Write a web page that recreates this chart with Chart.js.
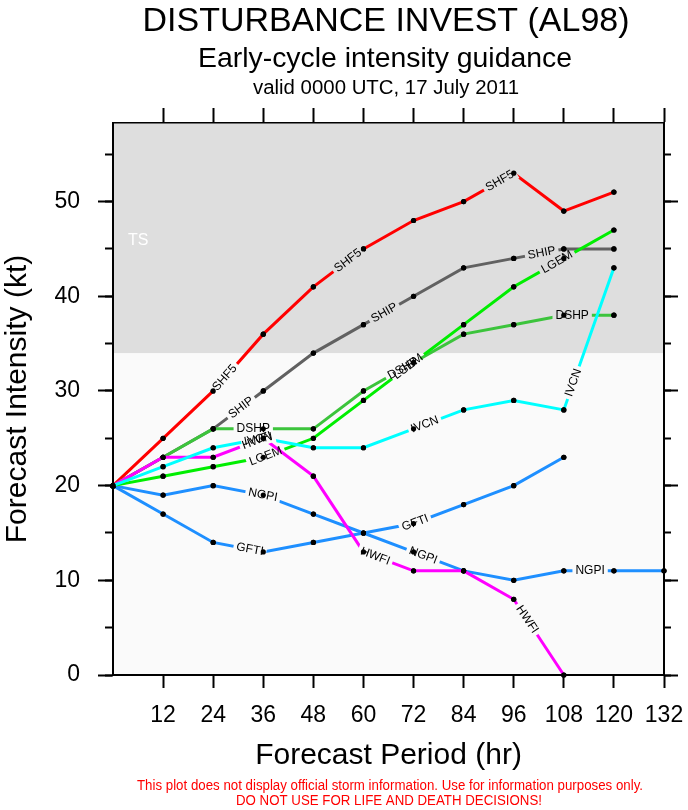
<!DOCTYPE html>
<html>
<head>
<meta charset="utf-8">
<script src="https://cdn.jsdelivr.net/npm/chart.js@4.4.1/dist/chart.umd.min.js"></script>
<style>
html,body{margin:0;padding:0;background:#fff;}
#wrap{width:688px;height:810px;position:relative;}
</style>
</head>
<body>
<div id="wrap"><canvas id="c"></canvas></div>
<script>
const FONT = '"Liberation Sans", Arial, Helvetica, sans-serif';

// ---- data ----
const hours = [0, 12, 24, 36, 48, 60, 72, 84, 96, 108, 120, 132];
const xTickValues = [12, 24, 36, 48, 60, 72, 84, 96, 108, 120, 132];
const yMajorTicks = [0, 10, 20, 30, 40, 50];
const yMinorTicks = [0, 5, 10, 15, 20, 25, 30, 35, 40, 45, 50, 55];
const yMax = 58.3;
const tsThreshold = 34;

const shf5 = [20, 25, 30, 36, 41, 45, 48, 50, 53, 49, 51];
const ship = [20, 23, 26, 30, 34, 37, 40, 43, 44, 45, 45];
const dshp = [20, 23, 26, 26, 26, 30, 33, 36, 37, 38, 38];
const lgem = [20, 21, 22, 23, 25, 29, 33, 37, 41, 44, 47];
const ivcn = [20, 22, 24, 25, 24, 24, 26, 28, 29, 28, 43];
const hwfi = [20, 23, 23, 25, 21, 13, 11, 11, 8, 0];
const ngpi = [20, 19, 20, 19, 17, 15, 13, 11, 10, 11, 11, 11];
const gfti = [20, 17, 14, 13, 14, 15, 16, 18, 20, 23];

// forecast hour at which each in-line label sits
const shf5Labels = [26.8, 56.3, 92.7];
const shipLabels = [30.7, 65, 102.7];
const dshpLabels = [33.6, 69.5, 110];
const lgemLabels = [36.6, 70.7, 106.4];
const ivcnLabels = [34.8, 74.7, 110.3];
const hwfiLabels = [34.5, 62.8, 99.2];
const ngpiLabels = [35.9, 74.3, 114.3];
const gftiLabels = [32.8, 72.4];

const titleText = 'DISTURBANCE INVEST (AL98)';
const subtitleText = 'Early-cycle intensity guidance';
const validText = 'valid 0000 UTC, 17 July 2011';
const footer1 = 'This plot does not display official storm information. Use for information purposes only.';
const footer2 = 'DO NOT USE FOR LIFE AND DEATH DECISIONS!';
const tsLabel = { text: 'TS', hour: 3.6, kt: 45.4 };

const toXY = vals => vals.map((v, i) => ({ x: hours[i], y: v }));

function series(label, vals, color, labels) {
  return {
    label, data: toXY(vals), lineLabels: labels,
    borderColor: color, borderWidth: 3, tension: 0, fill: false,
    pointRadius: 2.6, pointBackgroundColor: '#000', pointBorderWidth: 0,
    pointHoverRadius: 2.6, clip: false, xAxisID: 'x', yAxisID: 'y'
  };
}

const datasets = [
  series('IVCN', ivcn, '#00ffff', ivcnLabels),
  series('HWFI', hwfi, '#ff00ff', hwfiLabels),
  series('LGEM', lgem, '#00ee00', lgemLabels),
  series('DSHP', dshp, '#3cc43c', dshpLabels),
  series('SHIP', ship, '#616161', shipLabels),
  series('SHF5', shf5, '#ff0000', shf5Labels),
  series('NGPI', ngpi, '#1e8fff', ngpiLabels),
  series('GFTI', gfti, '#1e8fff', gftiLabels)
];

const LABEL_FONT = '12px ' + FONT;

function labelGeom(chart, ds, h) {
  const xs = chart.scales.x, ys = chart.scales.y;
  const d = ds.data;
  let i = 0;
  while (i < d.length - 2 && d[i + 1].x < h) i++;
  const a = d[i], b = d[i + 1];
  const t = (h - a.x) / (b.x - a.x);
  const v = a.y + t * (b.y - a.y);
  const px = xs.getPixelForValue(h), py = ys.getPixelForValue(v);
  const ang = Math.atan2(ys.getPixelForValue(b.y) - ys.getPixelForValue(a.y),
                         xs.getPixelForValue(b.x) - xs.getPixelForValue(a.x));
  return { px, py, ang };
}

function drawFitted(ctx, text, cx, y, font, color, target) {
  ctx.save();
  ctx.font = font;
  ctx.fillStyle = color;
  ctx.textAlign = 'center';
  ctx.textBaseline = 'alphabetic';
  const w = ctx.measureText(text).width;
  const s = target ? target / w : 1;
  ctx.translate(cx, y);
  ctx.scale(s, 1);
  ctx.fillText(text, 0, 0);
  ctx.restore();
}

const decorPlugin = {
  id: 'decor',
  beforeDraw(chart) {
    const { ctx, chartArea: a } = chart;
    const y = chart.scales.y;
    ctx.save();
    ctx.fillStyle = '#ffffff';
    ctx.fillRect(0, 0, chart.width, chart.height);
    ctx.fillStyle = '#fafafa';
    ctx.fillRect(a.left, a.top, a.right - a.left, a.bottom - a.top);
    const yTs = y.getPixelForValue(tsThreshold);
    ctx.fillStyle = '#dedede';
    ctx.fillRect(a.left, a.top, a.right - a.left, yTs - a.top);
    ctx.restore();
  },
  beforeDatasetsDraw(chart) {
    const ctx = chart.ctx;
    ctx.save();
    ctx.font = '16px ' + FONT;
    ctx.fillStyle = '#ffffff';
    ctx.textAlign = 'left';
    ctx.textBaseline = 'alphabetic';
    ctx.fillText(tsLabel.text, chart.scales.x.getPixelForValue(tsLabel.hour), chart.scales.y.getPixelForValue(tsLabel.kt));
    ctx.restore();
  },
  beforeDatasetDraw(chart, args) {
    const ds = chart.data.datasets[args.index];
    const ctx = chart.ctx;
    ctx.save();
    if (!ds.lineLabels) return;
    ctx.font = LABEL_FONT;
    const hw = ctx.measureText(ds.label).width / 2 + 3, hh = 7;
    ctx.beginPath();
    ctx.rect(0, 0, chart.width, chart.height);
    ds.lineLabels.forEach(h => {
      const g = labelGeom(chart, ds, h);
      const c = Math.cos(g.ang), s = Math.sin(g.ang);
      const pts = [[-hw, -hh], [hw, -hh], [hw, hh], [-hw, hh]].map(([u, v]) => [g.px + u * c - v * s, g.py + u * s + v * c]);
      ctx.moveTo(pts[0][0], pts[0][1]);
      for (let k = 1; k < 4; k++) ctx.lineTo(pts[k][0], pts[k][1]);
      ctx.closePath();
    });
    ctx.clip('evenodd');
  },
  afterDatasetDraw(chart, args) {
    const ctx = chart.ctx;
    ctx.restore();
    args.meta.data.forEach(p => p.draw(ctx));
  },
  afterDatasetsDraw(chart) {
    const ctx = chart.ctx;
    chart.data.datasets.forEach(ds => {
      (ds.lineLabels || []).forEach(h => {
        const g = labelGeom(chart, ds, h);
        ctx.save();
        ctx.translate(g.px, g.py);
        ctx.rotate(g.ang);
        ctx.font = LABEL_FONT;
        ctx.fillStyle = '#000';
        ctx.textAlign = 'center';
        ctx.textBaseline = 'middle';
        ctx.fillText(ds.label, 0, 0);
        ctx.restore();
      });
    });
  },
  afterDraw(chart) {
    const ctx = chart.ctx;
    drawFitted(ctx, titleText, 386, 31, '33px ' + FONT, '#000', 487);
    drawFitted(ctx, subtitleText, 385, 67, '28px ' + FONT, '#000', 374);
    drawFitted(ctx, validText, 386, 94, '20px ' + FONT, '#000', 266);
    drawFitted(ctx, footer1, 390, 790, '14px ' + FONT, '#ff0000', 506);
    drawFitted(ctx, footer2, 389, 805, '14px ' + FONT, '#ff0000', 306);
  }
};

const setTicks = arr => scale => { scale.ticks = arr.map(v => ({ value: v })); };

const chart = new Chart(document.getElementById('c'), {
  type: 'line',
  data: { datasets },
  plugins: [decorPlugin],
  options: {
    responsive: true,
    maintainAspectRatio: false,
    animation: false,
    events: [],
    layout: { padding: { top: 108, left: 0, right: 0, bottom: 0 } },
    plugins: { legend: { display: false }, tooltip: { enabled: false }, title: { display: false } },
    scales: {
      x: {
        type: 'linear', axis: 'x', position: 'bottom', min: 0, max: 132,
        afterBuildTicks: setTicks(xTickValues),
        afterFit: s => { s.height = 135; },
        ticks: { color: '#000', font: { family: FONT, size: 23, lineHeight: 48 / 23 }, padding: 4, autoSkip: false, maxRotation: 0 },
        grid: { drawOnChartArea: false, drawTicks: true, tickLength: 13, tickColor: '#000', tickWidth: 2 },
        border: { color: '#000', width: 2 },
        title: { display: true, text: 'Forecast Period (hr)', color: '#000', font: { family: FONT, size: 30 }, padding: { top: 0, bottom: 36 } }
      },
      x2: {
        type: 'linear', axis: 'x', position: 'top', min: 0, max: 132,
        afterBuildTicks: setTicks(xTickValues),
        afterFit: s => { s.height = 15; },
        ticks: { display: false },
        grid: { drawOnChartArea: false, drawTicks: true, tickLength: 15, tickColor: '#000', tickWidth: 2 },
        border: { color: '#000', width: 1.5 }
      },
      y: {
        type: 'linear', axis: 'y', position: 'left', weight: 1, min: 0, max: yMax,
        afterBuildTicks: setTicks(yMajorTicks),
        afterFit: s => { s.width = 113; },
        ticks: { color: '#000', font: { family: FONT, size: 23 }, padding: 18 },
        grid: { drawOnChartArea: false, drawTicks: true, tickLength: 15, tickColor: '#000', tickWidth: 2 },
        border: { color: '#000', width: 2 },
        title: { display: true, text: 'Forecast Intensity (kt)', color: '#000', font: { family: FONT, size: 30 }, padding: { top: 0, bottom: 0 } }
      },
      yMinor: {
        type: 'linear', axis: 'y', position: 'left', weight: 0, min: 0, max: yMax,
        afterBuildTicks: setTicks(yMinorTicks),
        afterFit: s => { s.width = 0; },
        ticks: { display: false },
        grid: { drawOnChartArea: false, drawTicks: true, tickLength: 8, tickColor: '#000', tickWidth: 2 },
        border: { display: false }
      },
      yR: {
        type: 'linear', axis: 'y', position: 'right', weight: 1, min: 0, max: yMax,
        afterBuildTicks: setTicks(yMajorTicks),
        afterFit: s => { s.width = 24; },
        ticks: { display: false },
        grid: { drawOnChartArea: false, drawTicks: true, tickLength: 14, tickColor: '#000', tickWidth: 2 },
        border: { color: '#000', width: 2 }
      },
      yRMinor: {
        type: 'linear', axis: 'y', position: 'right', weight: 0, min: 0, max: yMax,
        afterBuildTicks: setTicks(yMinorTicks),
        afterFit: s => { s.width = 0; },
        ticks: { display: false },
        grid: { drawOnChartArea: false, drawTicks: true, tickLength: 7, tickColor: '#000', tickWidth: 2 },
        border: { display: false }
      }
    }
  }
});
</script>
</body>
</html>
